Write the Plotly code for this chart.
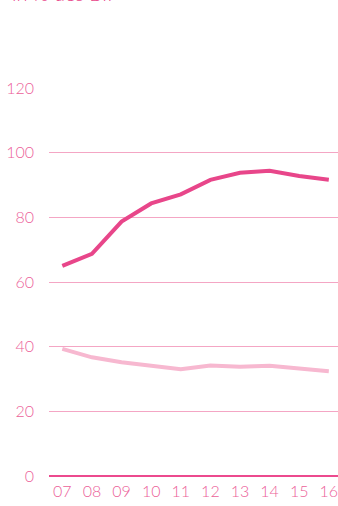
import plotly.graph_objects as go

years = ["07", "08", "09", "10", "11", "12", "13", "14", "15", "16"]
series_dark = [65.0, 68.7, 78.7, 84.3, 87.1, 91.6, 93.8, 94.4, 92.8, 91.6]
series_light = [39.3, 36.7, 35.2, 34.0, 33.0, 34.2, 33.8, 34.1, 33.4, 32.4]
y_ticks = [0, 20, 40, 60, 80, 100, 120]

x_pos = list(range(len(years)))

fig = go.Figure()
fig.add_trace(go.Scatter(x=x_pos, y=series_light, mode="lines",
                         line=dict(color="#F7B8D0", width=4), hoverinfo="skip"))
fig.add_trace(go.Scatter(x=x_pos, y=series_dark, mode="lines",
                         line=dict(color="#E8468A", width=4), hoverinfo="skip"))

tick_font = dict(family="Lato, Open Sans, sans-serif", size=16,
                 color="#EC6199", weight=300)

fig.update_layout(
    width=338, height=506,
    margin=dict(l=49, r=0, t=88, b=30),
    paper_bgcolor="white", plot_bgcolor="white",
    showlegend=False,
    xaxis=dict(range=[-0.45, 9.31], tickvals=x_pos, ticktext=years,
               showgrid=False, zeroline=False, showline=False,
               tickfont=tick_font, ticklabelstandoff=4,
               ticklabeloverflow="allow", fixedrange=True),
    yaxis=dict(range=[0, 120], tickvals=y_ticks, showgrid=True,
               gridcolor="#F4A6C4", gridwidth=1, zeroline=True,
               zerolinecolor="#EC4A8E", zerolinewidth=1.5, showline=False,
               tickfont=tick_font, ticklabelstandoff=14, fixedrange=True),
    annotations=[dict(text="in % des BIP", xref="paper", yref="paper",
                      x=-0.135, y=1.21, xanchor="left", yanchor="bottom",
                      showarrow=False,
                      font=dict(family="Lato, Open Sans, sans-serif", size=20,
                                color="#E8468A", weight=300))],
)

fig.write_html("out.html", config={"displayModeBar": False})
